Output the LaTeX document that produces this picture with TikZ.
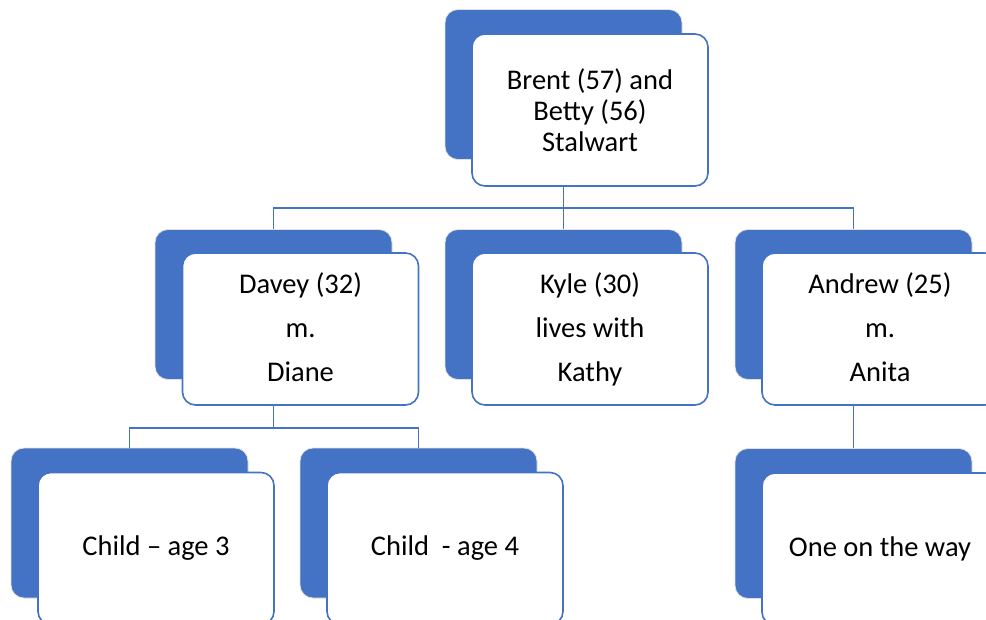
\documentclass[tikz,border=0pt]{standalone}
\usepackage{fontspec}
\setmainfont{Carlito}
\definecolor{ofblue}{HTML}{4472C4}
\begin{document}
\begin{tikzpicture}[x=1pt,y=-1pt,
  back/.style={rectangle,rounded corners=13pt,fill=ofblue,draw=black!12,line width=0.8pt,minimum width=237pt,minimum height=150pt,inner sep=0pt},
  front/.style={rectangle,rounded corners=13pt,fill=white,draw=ofblue,line width=1.6pt,minimum width=236pt,minimum height=152pt,inner sep=0pt,align=center,font=\fontsize{28.5}{31}\selectfont},
  front3/.style={front,font=\fontsize{28.5}{44}\selectfont},
  conn/.style={draw=ofblue,line width=1.6pt}]
\useasboundingbox (0,0) rectangle (986,619);
% top
\node[back] (topb) at (563.5,84.5) {};
\node[front] (topw) at (590,110) {Brent (57) and\\Betty (56)\\Stalwart};
% level 2
\node[back] (dab) at (273.5,304.5) {};
\node[front3] (daw) at (300.5,329) {Davey (32)\\m.\\Diane\vphantom{y}};
\node[back] (kyb) at (563.5,304.5) {};
\node[front3] (kyw) at (590,329) {Kyle (30)\\lives with\\Kathy};
\node[back] (anb) at (853.5,304.5) {};
\node[front3] (anw) at (880,329) {Andrew (25)\\m.\\Anita\vphantom{y}};
% level 3
\node[back] (c1b) at (129.5,523) {};
\node[front] (c1w) at (156,548.5) {Child -- age 3};
\node[back] (c2b) at (418.5,523) {};
\node[front] (c2w) at (445,548.5) {Child\ \ - age 4};
\node[back] (c3b) at (853.5,523.5) {};
\node[front] (c3w) at (880,549) {One on the way};
% connectors
\draw[conn] (topw.south -| topb.south) -- ++(0,21) coordinate (bus1);
\draw[conn] (bus1) -| (dab.north);
\draw[conn] (bus1) -| (anb.north);
\draw[conn] (bus1) -- (kyb.north);
\draw[conn] (daw.south -| dab.south) -- ++(0,22) coordinate (bus2);
\draw[conn] (bus2) -| (c1b.north);
\draw[conn] (bus2) -| (c2b.north);
\draw[conn] (anw.south -| anb.south) -- (c3b.north);
\end{tikzpicture}
\end{document}
